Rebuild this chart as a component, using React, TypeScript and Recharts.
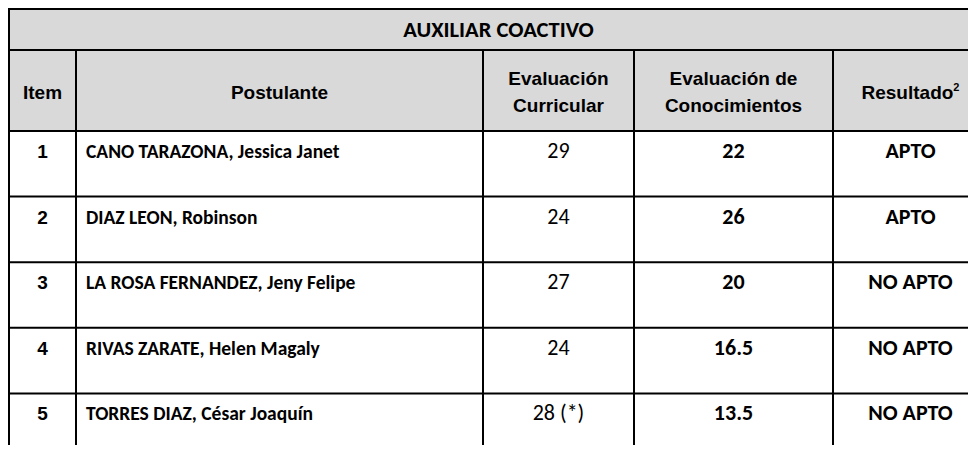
import { BarChart, Bar, XAxis, YAxis, Customized } from "recharts";

const items = [1, 2, 3, 4, 5];
const postulantes = [
  "CANO TARAZONA, Jessica Janet",
  "DIAZ LEON, Robinson",
  "LA ROSA FERNANDEZ, Jeny Felipe",
  "RIVAS ZARATE, Helen Magaly",
  "TORRES DIAZ, César Joaquín",
];
const curricular = ["29", "24", "27", "24", "28 (*)"];
const conocimientos = ["22", "26", "20", "16.5", "13.5"];
const resultados = ["APTO", "APTO", "NO APTO", "NO APTO", "NO APTO"];

const TITLE = "AUXILIAR COACTIVO";

const data = items.map((item, i) => ({
  item: String(item),
  postulante: postulantes[i],
  curricular: curricular[i],
  conocimientos: conocimientos[i],
  resultado: resultados[i],
}));

// column edges (svg coords)
const EDGES = [1, 68, 475, 626, 825, 980];
const LINE = "#000";
const GRAY = "#d9d9d9";
const CAL = "Carlito, Lato, 'Open Sans', sans-serif";
const NARROW = "'Liberation Sans Narrow', 'Arial Narrow', 'Liberation Sans', sans-serif";

const mid = (a: number, b: number) => (EDGES[a] + EDGES[b]) / 2;

function Header() {
  const titleBottom = 42;
  const headBottom = 123;
  return (
    <g>
      <rect x={EDGES[0]} y={1} width={EDGES[5] - EDGES[0]} height={headBottom - 1} fill={GRAY} />
      <line x1={EDGES[0]} x2={990} y1={1} y2={1} stroke={LINE} strokeWidth={2} />
      <line x1={EDGES[0]} x2={990} y1={titleBottom} y2={titleBottom} stroke={LINE} strokeWidth={2} />
      <line x1={EDGES[0]} x2={EDGES[0]} y1={0} y2={headBottom} stroke={LINE} strokeWidth={2} />
      {EDGES.slice(1, 5).map((x) => (
        <line key={x} x1={x} x2={x} y1={titleBottom} y2={headBottom} stroke={LINE} strokeWidth={2} />
      ))}
      <text x={(EDGES[0] + EDGES[5]) / 2} y={29} textAnchor="middle" fontFamily={CAL} fontWeight="bold" fontSize={22.5} fill="#000">
        {TITLE}
      </text>
      <g fontFamily={NARROW} fontWeight="bold" fontSize={19} fill="#000" textAnchor="middle">
        <text x={mid(0, 1)} y={91}>Item</text>
        <text x={mid(1, 2)} y={91}>Postulante</text>
        <text x={mid(2, 3)} y={77}>Evaluación</text>
        <text x={mid(2, 3)} y={104}>Curricular</text>
        <text x={mid(3, 4)} y={77}>Evaluación de</text>
        <text x={mid(3, 4)} y={104}>Conocimientos</text>
        <text x={mid(4, 5)} y={91}>
          Resultado
          <tspan fontSize={11} dy={-8}>2</tspan>
        </text>
      </g>
    </g>
  );
}

function RowShape(props: any) {
  const { y, height, payload } = props;
  const base = y + 27;
  return (
    <g>
      <line x1={EDGES[0] - 1} x2={990} y1={y} y2={y} stroke={LINE} strokeWidth={2} />
      {EDGES.slice(0, 5).map((x) => (
        <line key={x} x1={x} x2={x} y1={y} y2={y + height} stroke={LINE} strokeWidth={2} />
      ))}
      <text x={mid(0, 1)} y={base} textAnchor="middle" fontFamily={NARROW} fontWeight="bold" fontSize={19} fill="#000">
        {payload.item}
      </text>
      <text x={EDGES[1] + 10} y={base} fontFamily={CAL} fontWeight="bold" fontSize={19.5} fill="#000">
        {payload.postulante}
      </text>
      <text x={mid(2, 3)} y={base} textAnchor="middle" fontFamily={CAL} fontSize={22} fill="#000">
        {payload.curricular}
      </text>
      <text x={mid(3, 4)} y={base} textAnchor="middle" fontFamily={CAL} fontWeight="bold" fontSize={22} fill="#000">
        {payload.conocimientos}
      </text>
      <text x={mid(4, 5)} y={base} textAnchor="middle" fontFamily={CAL} fontWeight="bold" fontSize={22} fill="#000">
        {payload.resultado}
      </text>
    </g>
  );
}

export default function App() {
  return (
    <div style={{ width: 968, height: 445, overflow: "hidden", marginBottom: -8, background: "#fff" }}>
      <BarChart
        width={990}
        height={460}
        data={data}
        layout="vertical"
        margin={{ top: 123, right: 0, bottom: 9, left: 0 }}
        barCategoryGap={0}
        barGap={0}
      >
        <XAxis type="number" domain={[0, 1]} hide />
        <YAxis type="category" dataKey="item" hide />
        <Customized component={Header} />
        <Bar dataKey={() => 1} shape={RowShape} isAnimationActive={false} />
      </BarChart>
    </div>
  );
}
